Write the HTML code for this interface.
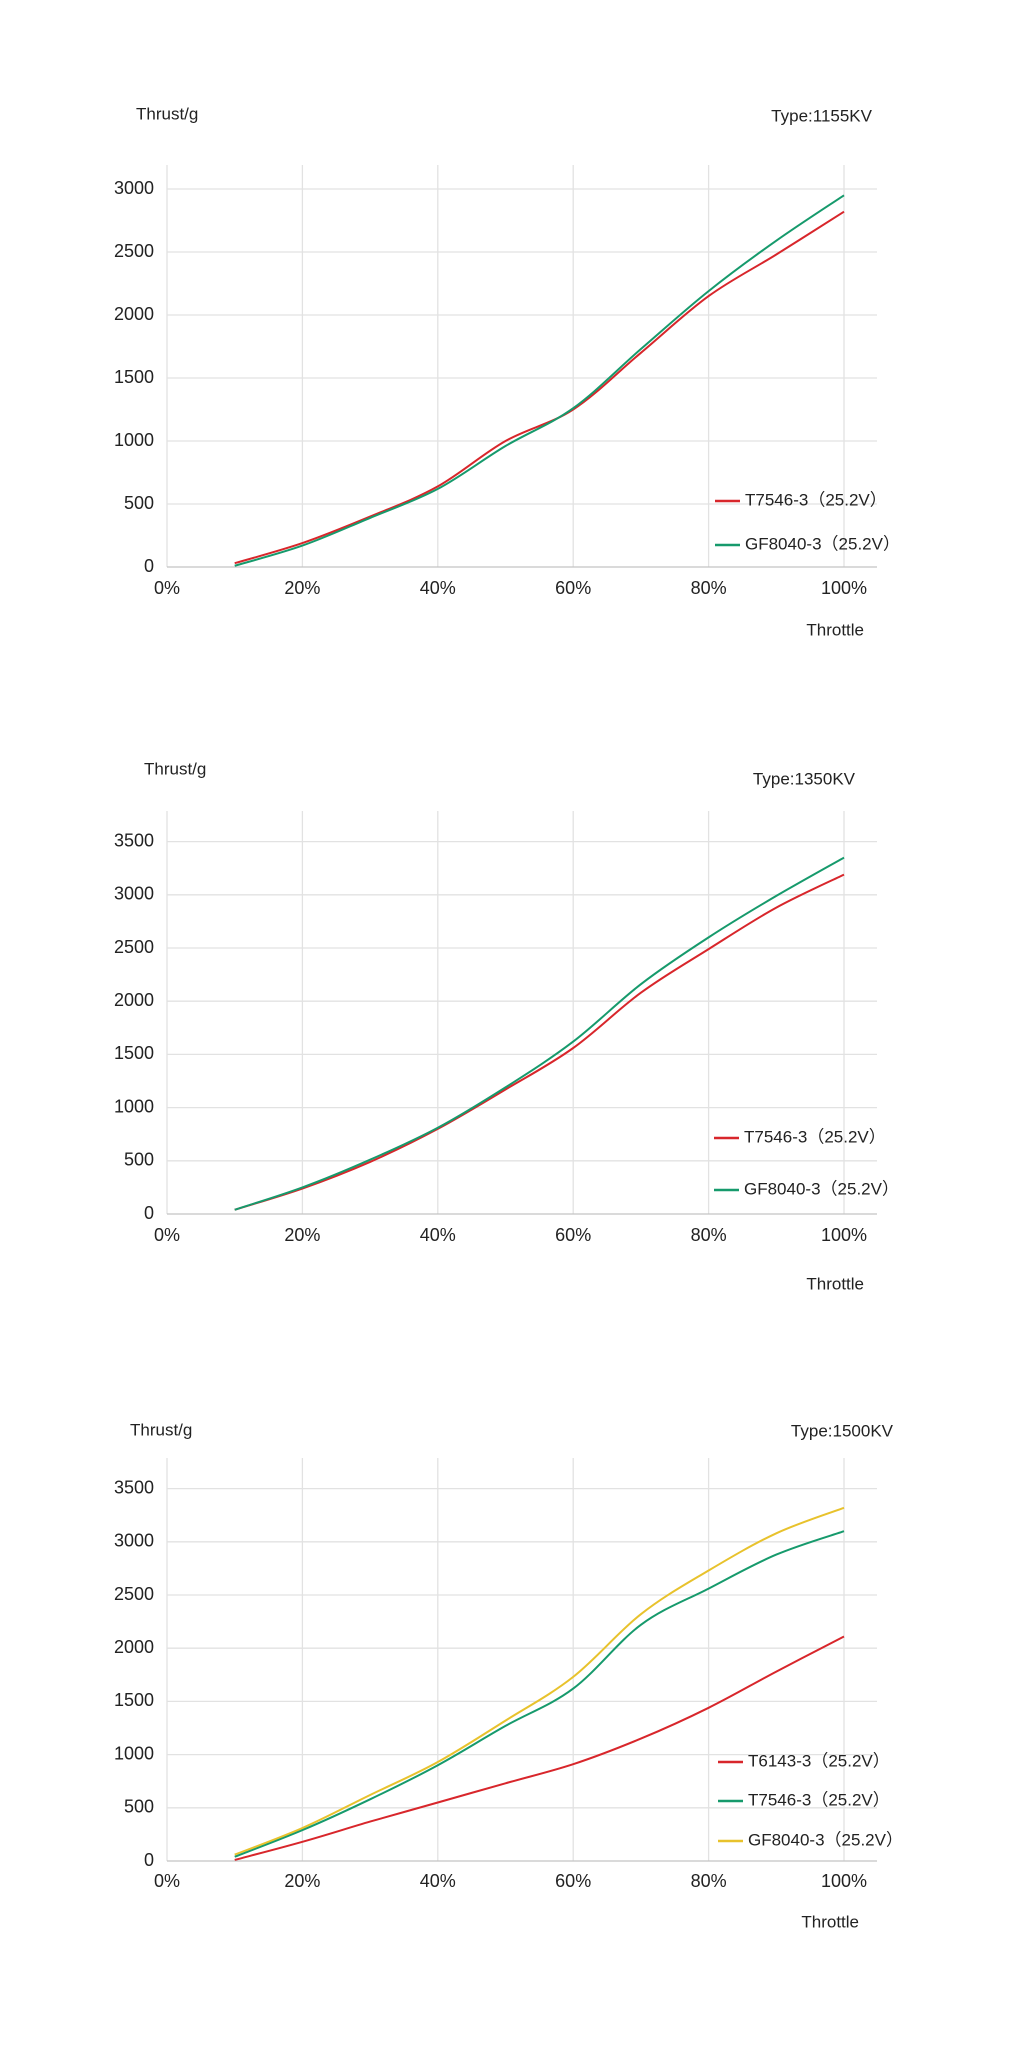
<!DOCTYPE html>
<html><head><meta charset="utf-8"><style>
html,body{margin:0;padding:0;background:#fff;}
svg text{font-family:"Liberation Sans",sans-serif;fill:#222;}
</style></head><body>
<svg id="s" width="1013" height="2048" viewBox="0 0 1013 2048" xmlns="http://www.w3.org/2000/svg"></svg>
<script>
const S=document.getElementById('s');let h='';
const RED='#d8262b',GRN='#169a6c',YEL='#e8c22c';
function chart(c){
  const X0=167,XW=6.77,Y0=c.y0,per=c.per;
  const X=p=>X0+p*XW, Y=v=>Y0-v/500*per;
  for(let i=0;i<=5;i++){const x=X(i*20);h+=`<line x1="${x}" y1="${c.top}" x2="${x}" y2="${Y0}" stroke="#e2e2e2" stroke-width="1.3"/>`;
    h+=`<text x="${x}" y="${c.xl}" font-size="18" text-anchor="middle" dominant-baseline="middle">${i*20}%</text>`;}
  for(let v=0;v<=c.max;v+=500){const y=Y(v);h+=`<line x1="${X0}" y1="${y}" x2="877" y2="${y}" stroke="${v?'#e2e2e2':'#c4c4c4'}" stroke-width="1.3"/>`;
    h+=`<text x="154" y="${y}" font-size="18" text-anchor="end" dominant-baseline="middle">${v}</text>`;}
  h+=`<text x="${c.tx}" y="${c.ty}" font-size="17" dominant-baseline="middle">Thrust/g</text>`;
  h+=`<text x="${c.kr}" y="${c.ky}" font-size="17" text-anchor="end" dominant-baseline="middle">${c.kv}</text>`;
  h+=`<text x="${c.thr}" y="${c.thy}" font-size="17" text-anchor="end" dominant-baseline="middle">Throttle</text>`;
  c.series.forEach((s,k)=>{
    const pts=s.d.map((v,i)=>[X((i+1)*10),Y(v)]);
    let d=`M${pts[0][0]},${pts[0][1]}`;
    for(let i=0;i<pts.length-1;i++){const p0=pts[Math.max(0,i-1)],p1=pts[i],p2=pts[i+1],p3=pts[Math.min(pts.length-1,i+2)];
      const c1=[p1[0]+(p2[0]-p0[0])/6,p1[1]+(p2[1]-p0[1])/6],c2=[p2[0]-(p3[0]-p1[0])/6,p2[1]-(p3[1]-p1[1])/6];
      d+=` C${c1[0].toFixed(1)},${c1[1].toFixed(1)} ${c2[0].toFixed(1)},${c2[1].toFixed(1)} ${p2[0].toFixed(1)},${p2[1].toFixed(1)}`;}
    h+=`<path d="${d}" fill="none" stroke="${s.c}" stroke-width="2"/>`;
    const ly=c.ly[k];
    h+=`<line x1="${c.lx}" y1="${ly}" x2="${c.lx+25}" y2="${ly}" stroke="${s.c}" stroke-width="2.5"/>`;
    h+=`<text x="${c.lx+30}" y="${ly}" font-size="17" dominant-baseline="middle">${s.n}（25.2V）</text>`;
  });
}
chart({y0:567,per:63,top:165,max:3000,xl:589,tx:136,ty:115,kr:872,ky:117,kv:'Type:1155KV',thr:864,thy:631,lx:715,ly:[501,545],
 series:[{n:'T7546-3',c:RED,d:[30,190,400,640,1000,1250,1700,2150,2480,2820]},
         {n:'GF8040-3',c:GRN,d:[10,170,390,620,960,1260,1730,2190,2590,2950]}]});
chart({y0:1214,per:53.2,top:811,max:3500,xl:1236,tx:144,ty:770,kr:855,ky:780,kv:'Type:1350KV',thr:864,thy:1285,lx:714,ly:[1138,1190],
 series:[{n:'T7546-3',c:RED,d:[40,240,490,800,1170,1560,2080,2490,2880,3190]},
         {n:'GF8040-3',c:GRN,d:[40,250,510,810,1190,1620,2160,2600,2990,3350]}]});
chart({y0:1861,per:53.2,top:1458,max:3500,xl:1882,tx:130,ty:1431,kr:893,ky:1432,kv:'Type:1500KV',thr:859,thy:1923,lx:718,ly:[1762,1801,1841],
 series:[{n:'T6143-3',c:RED,d:[10,180,370,550,730,910,1150,1440,1780,2110]},
         {n:'T7546-3',c:GRN,d:[40,290,580,900,1270,1620,2220,2560,2880,3100]},
         {n:'GF8040-3',c:YEL,d:[60,310,620,930,1320,1730,2320,2730,3080,3320]}]});
S.innerHTML=h;
</script>
</body></html>
